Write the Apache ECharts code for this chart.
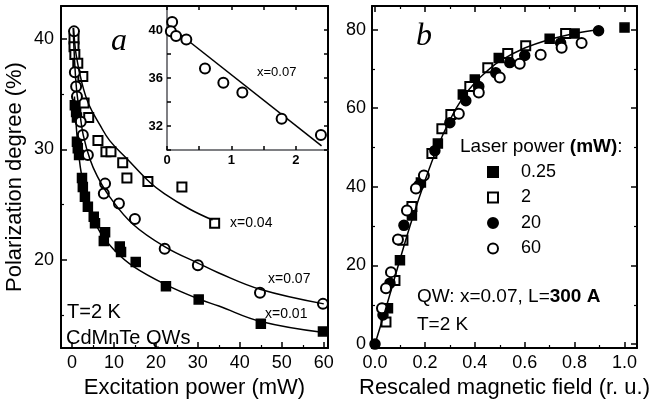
<!DOCTYPE html>
<html>
<head>
<meta charset="utf-8">
<script src="https://cdn.jsdelivr.net/npm/echarts@6/dist/echarts.min.js"></script>
<style>
html, body { margin: 0; padding: 0; background: #fff; }
#main { width: 651px; height: 403px; }
</style>
</head>
<body>
<div id="main"></div>
<script>
// panel a: polarization degree (%) vs excitation power (mW)
var sq001 = [[0.7,34.0],[1.0,33.4],[1.2,32.9],[1.2,30.7],[1.4,30.1],[1.7,29.5],[2.4,27.4],[2.6,26.6],
  [3.1,25.7],[3.8,24.8],[5.2,23.9],[5.5,23.3],[7.9,22.5],[7.6,21.7],[11.4,21.2],[11.7,20.7],
  [15.2,19.8],[22.4,17.6],[30.2,16.4],[45.0,14.2],[59.8,13.5]];
var sq004 = [[0.5,40.0],[0.5,39.3],[0.7,38.6],[1.4,37.8],[2.6,36.6],[2.9,34.2],[4.0,32.9],[6.2,30.8],
  [8.1,29.8],[9.3,29.8],[12.1,28.8],[13.1,27.4],[18.1,27.1],[26.2,26.6],[34.0,23.3]];
var ci007 = [[0.5,40.7],[0.7,37.0],[1.0,35.7],[1.2,34.8],[2.1,32.5],[2.6,31.3],[3.8,29.5],[7.6,26.0],
  [7.9,26.9],[11.2,25.1],[15.0,23.7],[22.1,21.0],[30.0,19.5],[44.8,17.0],[59.8,16.0]];
var fit004 = [[0.4,41],[1,38.6],[2.4,36.0],[4,34.1],[6.7,32.2],[9,30.8],[13,29.2],[18.6,27.0],
  [22,26.0],[28,24.6],[33.5,23.6]];
var fit007 = [[0.3,41],[0.7,37.6],[1.2,35.1],[2,33],[2.7,31.3],[4.3,29.1],[6,27.6],[9,25.7],
  [14.6,23.2],[22.5,21.1],[30,19.7],[35,18.8],[45,17.3],[60,16.0]];
var fit001 = [[0.6,34.8],[1.2,31.3],[2,28.4],[3,26.3],[4.5,24.3],[6.7,22.5],[10,20.9],[14.6,19.4],
  [22.6,17.7],[30.5,16.4],[35,15.8],[45,14.4],[60,13.4]];

// inset (x=0.07, low power)
var insetPts = [[0.08,40.67],[0.06,39.9],[0.14,39.5],[0.3,39.2],[0.59,36.8],[0.875,35.6],
  [1.17,34.8],[1.78,32.6],[2.39,31.25]];
var insetFit = [[0,40.5],[2.4,30.35]];

// panel b: polarization vs rescaled field, per laser power (mW)
var powerNames = ['0.25', '2', '20', '60'];
var p025 = [[0.052,9.1],[0.1,21.3],[0.148,32.7],[0.184,41.1],[0.252,51.0],[0.352,63.5],[0.4,67.3],
  [0.496,72.8],[0.7,77.7],[0.8,79.0],[1.0,80.5]];
var p2 = [[0,-1.5],[0.044,5.6],[0.08,16.2],[0.112,26.4],[0.148,35.0],[0.228,48.5],[0.268,54.8],
  [0.304,58.4],[0.38,65.5],[0.452,70.3],[0.532,73.9],[0.604,75.9],[0.764,79.0]];
var p20 = [[0,0],[0.032,7.4],[0.06,15.5],[0.116,30.2],[0.176,40.4],[0.24,49.2],[0.3,56.3],
  [0.364,61.9],[0.416,65.5],[0.484,69.0],[0.54,71.6],[0.6,73.4],[0.744,76.6],[0.896,79.7]];
var p60 = [[0.028,9.1],[0.044,14.2],[0.064,18.3],[0.092,26.6],[0.128,34.0],[0.164,39.6],
  [0.196,42.9],[0.336,58.6],[0.416,64.0],[0.5,67.8],[0.58,71.3],[0.664,73.6],[0.748,75.4],[0.828,76.6]];
var fitB = [[0,0],[0.05,10.5],[0.1,21.5],[0.15,32],[0.2,41.5],[0.25,50],[0.3,57],[0.35,62.5],
  [0.4,66.5],[0.45,69.5],[0.5,72],[0.6,75.3],[0.7,77.5],[0.8,79],[0.9,80]];

var FONT = '"Liberation Sans", Arial, sans-serif';
var black = '#000';

function frame(extra) {
  var ax = {
    type: 'value',
    axisLine: { show: true, onZero: false, lineStyle: { color: black, width: 2 } },
    axisTick: { show: true, inside: true, length: 6, lineStyle: { color: black, width: 1.5 } },
    minorTick: { show: true, splitNumber: 2, length: 3, lineStyle: { color: black, width: 1.2 } },
    splitLine: { show: false },
    minorSplitLine: { show: false },
    axisLabel: { show: false, color: black, fontFamily: FONT, fontSize: 18 }
  };
  for (var k in extra) {
    if (typeof extra[k] === 'object' && ax[k] && !Array.isArray(extra[k])) {
      ax[k] = Object.assign({}, ax[k], extra[k]);
    } else {
      ax[k] = extra[k];
    }
  }
  return ax;
}

var chart = echarts.init(document.getElementById('main'));

var markerStyle = { color: black, borderColor: black, borderWidth: 1.5, opacity: 1 };
var nameStyle = { color: black, fontFamily: FONT, fontSize: 22 };

chart.setOption({
  animation: false,
  backgroundColor: '#fff',
  grid: [
    { left: 61, top: 6, width: 267, height: 342, outerBoundsMode: 'none' },
    { left: 372, top: 6, width: 265, height: 342, outerBoundsMode: 'none' },
    { left: 167, top: 6, width: 161, height: 144, outerBoundsMode: 'none',
      show: true, backgroundColor: '#fff', borderWidth: 0 }
  ],
  xAxis: [
    frame({ gridIndex: 0, min: -2.6, max: 61, splitNumber: 6,
      axisLabel: { show: true, margin: 6, showMinLabel: false, showMaxLabel: false },
      name: 'Excitation power (mW)', nameLocation: 'middle', nameGap: 27, nameTextStyle: nameStyle }),
    frame({ gridIndex: 0, position: 'top', min: -2.6, max: 61,
      axisTick: { show: false }, minorTick: { show: false } }),
    frame({ gridIndex: 1, min: -0.012, max: 1.05, splitNumber: 5,
      axisLabel: { show: true, margin: 6, showMinLabel: false, showMaxLabel: false,
        formatter: function (v) { return v.toFixed(1); } },
      name: 'Rescaled magnetic field (r. u.)', nameLocation: 'middle', nameGap: 27, nameTextStyle: nameStyle }),
    frame({ gridIndex: 1, position: 'top', min: -0.012, max: 1.05, splitNumber: 5 }),
    frame({ gridIndex: 2, min: 0, max: 2.5, splitNumber: 5,
      axisLine: { lineStyle: { width: 1.5 } },
      axisTick: { length: 4 }, minorTick: { show: false },
      axisLabel: { show: true, margin: 4, fontSize: 13, fontWeight: 'bold',
        formatter: function (v) { return Math.abs(v - Math.round(v)) < 1e-6 ? String(Math.round(v)) : ''; } } }),
    frame({ gridIndex: 2, position: 'top', min: 0, max: 2.5, splitNumber: 5,
      axisTick: { length: 4 }, minorTick: { show: false } })
  ],
  yAxis: [
    frame({ gridIndex: 0, min: 12, max: 43, splitNumber: 3,
      axisLabel: { show: true, margin: 7, showMinLabel: false, showMaxLabel: false },
      name: 'Polarization degree (%)', nameLocation: 'middle', nameGap: 35, nameTextStyle: nameStyle }),
    frame({ gridIndex: 0, position: 'right', min: 12, max: 43,
      axisTick: { show: false }, minorTick: { show: false } }),
    frame({ gridIndex: 1, min: -1, max: 86, splitNumber: 4,
      axisLabel: { show: true, margin: 6, showMinLabel: false, showMaxLabel: false } }),
    frame({ gridIndex: 1, position: 'right', min: -1, max: 86, splitNumber: 4 }),
    frame({ gridIndex: 2, min: 30, max: 42, splitNumber: 6,
      axisLine: { lineStyle: { width: 1.5 } },
      axisTick: { length: 4 }, minorTick: { show: false },
      axisLabel: { show: true, margin: 4, fontSize: 13, fontWeight: 'bold',
        formatter: function (v) { return v % 4 === 0 && v > 30 && v < 42 ? String(v) : ''; } } }),
    frame({ gridIndex: 2, position: 'right', min: 30, max: 42, splitNumber: 6,
      axisTick: { length: 4 }, minorTick: { show: false } })
  ],
  legend: {
    orient: 'vertical', left: 482, top: 158,
    itemWidth: 10, itemHeight: 10, itemGap: 7.5, symbolKeepAspect: true,
    data: powerNames,
    textStyle: { color: black, fontFamily: FONT, fontSize: 18, lineHeight: 17, padding: [0, 0, 0, 18] }
  },
  series: [
    { type: 'line', xAxisIndex: 0, yAxisIndex: 0, data: fit004, smooth: 0.4, showSymbol: false,
      lineStyle: { color: black, width: 1.5 }, silent: true },
    { type: 'line', xAxisIndex: 0, yAxisIndex: 0, data: fit007, smooth: 0.4, showSymbol: false,
      lineStyle: { color: black, width: 1.5 }, silent: true },
    { type: 'line', xAxisIndex: 0, yAxisIndex: 0, data: fit001, smooth: 0.4, showSymbol: false,
      lineStyle: { color: black, width: 1.5 }, silent: true },
    { type: 'scatter', xAxisIndex: 0, yAxisIndex: 0, data: sq001, symbol: 'rect', symbolSize: 9, itemStyle: markerStyle },
    { type: 'scatter', xAxisIndex: 0, yAxisIndex: 0, data: sq004, symbol: 'emptyRect', symbolSize: 9, itemStyle: markerStyle },
    { type: 'scatter', xAxisIndex: 0, yAxisIndex: 0, data: ci007, symbol: 'emptyCircle', symbolSize: 10, itemStyle: markerStyle },

    { type: 'line', xAxisIndex: 4, yAxisIndex: 4, data: insetFit, showSymbol: false,
      lineStyle: { color: black, width: 1.5 }, silent: true, z: 5 },
    { type: 'scatter', xAxisIndex: 4, yAxisIndex: 4, data: insetPts, symbol: 'emptyCircle', symbolSize: 10,
      itemStyle: markerStyle, z: 5 },

    { type: 'line', xAxisIndex: 2, yAxisIndex: 2, data: fitB, smooth: 0.4, showSymbol: false,
      lineStyle: { color: black, width: 1.5 }, silent: true },
    { name: powerNames[0], type: 'scatter', xAxisIndex: 2, yAxisIndex: 2, data: p025, symbol: 'rect', symbolSize: 9, itemStyle: markerStyle },
    { name: powerNames[1], type: 'scatter', xAxisIndex: 2, yAxisIndex: 2, data: p2, symbol: 'emptyRect', symbolSize: 9, itemStyle: markerStyle },
    { name: powerNames[2], type: 'scatter', xAxisIndex: 2, yAxisIndex: 2, data: p20, symbol: 'circle', symbolSize: 10, itemStyle: markerStyle },
    { name: powerNames[3], type: 'scatter', xAxisIndex: 2, yAxisIndex: 2, data: p60, symbol: 'emptyCircle', symbolSize: 10, itemStyle: markerStyle }
  ],
  graphic: [
    { type: 'text', x: 111, y: 42, style: { text: 'a', font: 'italic 32px "Liberation Serif", serif', fill: black, verticalAlign: 'middle' } },
    { type: 'text', x: 416, y: 37, style: { text: 'b', font: 'italic 32px "Liberation Serif", serif', fill: black, verticalAlign: 'middle' } },
    { type: 'text', x: 67, y: 312, style: { text: 'T=2 K', font: '20px ' + FONT, fill: black, verticalAlign: 'middle' } },
    { type: 'text', x: 66, y: 338, style: { text: 'CdMnTe QWs', font: '20px ' + FONT, fill: black, verticalAlign: 'middle' } },
    { type: 'text', x: 230, y: 223, style: { text: 'x=0.04', font: '14px ' + FONT, fill: black, verticalAlign: 'middle' } },
    { type: 'text', x: 268, y: 279, style: { text: 'x=0.07', font: '14px ' + FONT, fill: black, verticalAlign: 'middle' } },
    { type: 'text', x: 265, y: 314, style: { text: 'x=0.01', font: '14px ' + FONT, fill: black, verticalAlign: 'middle' } },
    { type: 'text', x: 257, y: 72, z: 10, style: { text: 'x=0.07', font: '13px ' + FONT, fill: black, verticalAlign: 'middle' } },
    { type: 'text', x: 460, y: 147, style: {
        text: 'Laser power {b|(mW)}:', font: '19px ' + FONT, fill: black, verticalAlign: 'middle',
        rich: { b: { fontWeight: 'bold', fontSize: 19, fontFamily: FONT } } } },
    { type: 'text', x: 417, y: 297, style: {
        text: 'QW: x=0.07, L={b|300 A}', font: '19px ' + FONT, fill: black, verticalAlign: 'middle',
        rich: { b: { fontWeight: 'bold', fontSize: 19, fontFamily: FONT } } } },
    { type: 'text', x: 417, y: 325, style: { text: 'T=2 K', font: '19px ' + FONT, fill: black, verticalAlign: 'middle' } }
  ]
});
</script>
</body>
</html>
